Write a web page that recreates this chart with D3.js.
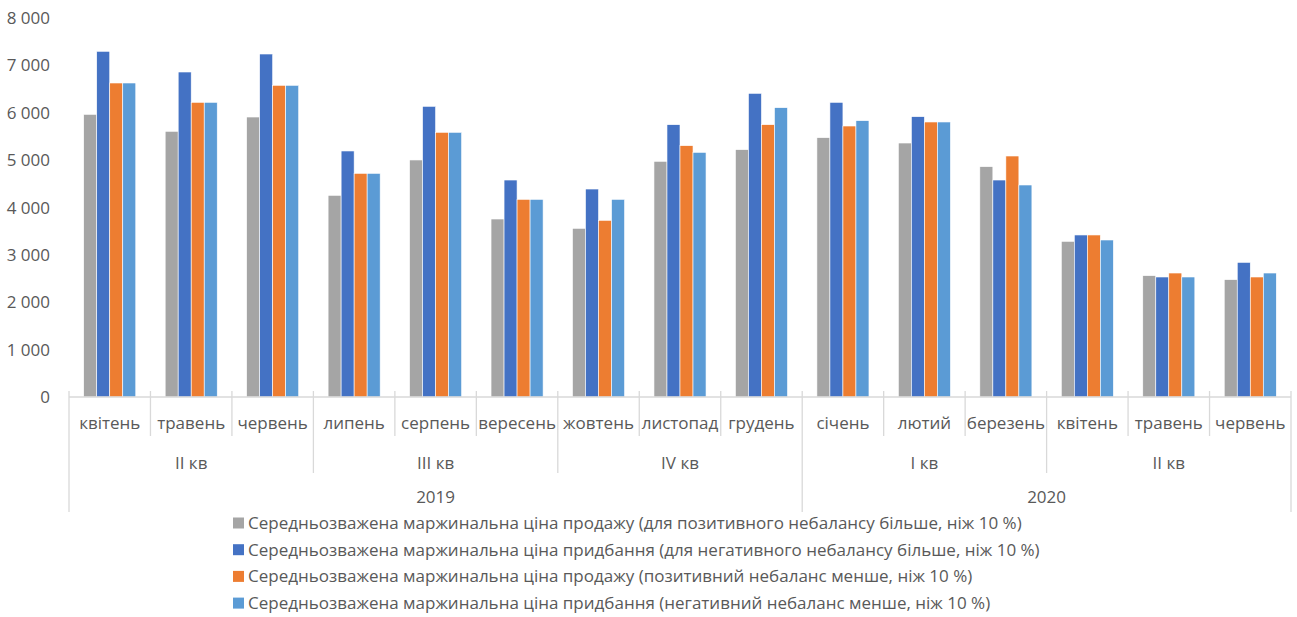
<!DOCTYPE html>
<html>
<head>
<meta charset="utf-8">
<script src="https://cdn.jsdelivr.net/npm/d3@7"></script>
<style>
  body { margin: 0; background: #fff; }
  text { font-family: "Open Sans", "Noto Sans", sans-serif; fill: #595959; font-size: 17px; }
</style>
</head>
<body>
<svg id="chart" width="1297" height="617"></svg>
<script>
// data
const months = ["квітень", "травень", "червень", "липень", "серпень", "вересень", "жовтень", "листопад",
    "грудень", "січень", "лютий", "березень", "квітень", "травень", "червень"];
const monthQuarter = ["II кв", "II кв", "II кв", "III кв", "III кв", "III кв", "IV кв", "IV кв", "IV кв",
    "I кв", "I кв", "I кв", "II кв", "II кв", "II кв"];
const monthYear = ["2019", "2019", "2019", "2019", "2019", "2019", "2019", "2019", "2019",
    "2020", "2020", "2020", "2020", "2020", "2020"];
const seriesNames = [
    "Середньозважена маржинальна ціна продажу (для позитивного небалансу більше, ніж 10 %)",
    "Середньозважена маржинальна ціна придбання (для негативного небалансу більше, ніж 10 %)",
    "Середньозважена маржинальна ціна продажу (позитивний небаланс менше, ніж 10 %)",
    "Середньозважена маржинальна ціна придбання (негативний небаланс менше, ніж 10 %)",
];
const sellHigh = [5966, 5608, 5910, 4257, 5003, 3757, 3560, 4975, 5221, 5474, 5361, 4862, 3286, 2561, 2477];
const buyHigh = [7297, 6860, 7240, 5193, 6136, 4580, 4390, 5748, 6410, 6220, 5917, 4580, 3420, 2533, 2842];
const sellLow = [6628, 6220, 6579, 4721, 5587, 4172, 3729, 5305, 5748, 5720, 5805, 5087, 3420, 2617, 2533];
const buyLow = [6628, 6220, 6579, 4721, 5587, 4172, 4172, 5164, 6107, 5833, 5805, 4475, 3314, 2533, 2617];
const yTicks = [0, 1000, 2000, 3000, 4000, 5000, 6000, 7000, 8000];
const colors = ["#a5a5a5", "#4472c4", "#ed7d31", "#5b9bd5"];

const series = [sellHigh, buyHigh, sellLow, buyLow];
const rows = months.map((m, i) => ({ idx: i, vals: series.map((s) => s[i]) }));

const svg = d3.select("#chart");
const plotLeft = 69, plotRight = 1291, plotTop = 18, base = 397;

const x0 = d3.scaleBand().domain(d3.range(months.length)).range([plotLeft, plotRight]).padding(0);
const x1 = d3.scaleBand().domain(d3.range(series.length)).range([0, x0.bandwidth()])
    .paddingInner(0).paddingOuter(1.13);
const y = d3.scaleLinear().domain([0, 8000]).range([base, plotTop]);

// y labels
const fmt = (d) => d3.format(",")(d).replace(/,/g, " ");
svg.append("g")
    .selectAll("text")
    .data(yTicks)
    .enter()
    .append("text")
    .attr("x", 50)
    .attr("y", (d) => y(d) + 6)
    .attr("text-anchor", "end")
    .text(fmt);

// bars
const groups = svg.append("g")
    .selectAll("g")
    .data(rows)
    .enter()
    .append("g")
    .attr("transform", (d) => `translate(${x0(d.idx)},0)`);
groups.selectAll("rect")
    .data((d) => d.vals)
    .enter()
    .append("rect")
    .attr("x", (d, i) => x1(i))
    .attr("width", x1.bandwidth())
    .attr("y", (d) => y(d))
    .attr("height", (d) => base - y(d))
    .attr("fill", (d, i) => colors[i])
    .attr("stroke", "#fff")
    .attr("stroke-width", 0.6);

// axis line
const lineCol = "#d9d9d9";
svg.append("line")
    .attr("x1", plotLeft).attr("x2", plotRight)
    .attr("y1", base).attr("y2", base)
    .attr("stroke", lineCol).attr("stroke-width", 1.3);

// month labels
svg.append("g")
    .selectAll("text")
    .data(months)
    .enter()
    .append("text")
    .attr("x", (d, i) => x0(i) + x0.bandwidth() / 2)
    .attr("y", 429)
    .attr("text-anchor", "middle")
    .text((d) => d);

// grouping helper
function spans(arr, key) {
    const out = [];
    arr.forEach((d, i) => {
        const k = key(i);
        if (out.length && out[out.length - 1].k === k) out[out.length - 1].end = i;
        else out.push({ k: k, label: d, start: i, end: i });
    });
    return out;
}
const qSpans = spans(monthQuarter, (i) => monthYear[i] + monthQuarter[i]);
const ySpans = spans(monthYear, (i) => monthYear[i]);

// boundaries: depth depends on level
const edges = d3.range(months.length + 1).map((i) => {
    let bottom = 436;
    if (qSpans.some((s) => s.start === i) || i === months.length) bottom = 473;
    if (ySpans.some((s) => s.start === i) || i === months.length) bottom = 512;
    return { x: i < months.length ? x0(i) : plotRight, bottom: bottom };
});
svg.append("g")
    .selectAll("line")
    .data(edges)
    .enter()
    .append("line")
    .attr("x1", (d) => d.x).attr("x2", (d) => d.x)
    .attr("y1", 391).attr("y2", (d) => d.bottom)
    .attr("stroke", lineCol).attr("stroke-width", 1.3);

svg.append("g")
    .selectAll("text")
    .data(qSpans)
    .enter()
    .append("text")
    .attr("x", (d) => (x0(d.start) + x0(d.end) + x0.bandwidth()) / 2)
    .attr("y", 469)
    .attr("text-anchor", "middle")
    .text((d) => d.label);

svg.append("g")
    .selectAll("text")
    .data(ySpans)
    .enter()
    .append("text")
    .attr("x", (d) => (x0(d.start) + x0(d.end) + x0.bandwidth()) / 2)
    .attr("y", 503)
    .attr("text-anchor", "middle")
    .text((d) => d.label);

// legend
const legend = svg.append("g")
    .selectAll("g")
    .data(seriesNames)
    .enter()
    .append("g")
    .attr("transform", (d, i) => `translate(233,${523 + i * 26.7})`);
legend.append("rect")
    .attr("x", 0).attr("y", -5.5)
    .attr("width", 11).attr("height", 11)
    .attr("fill", (d, i) => colors[i]);
legend.append("text")
    .attr("x", 15)
    .attr("y", 6)
    .text((d) => d);
</script>
</body>
</html>
